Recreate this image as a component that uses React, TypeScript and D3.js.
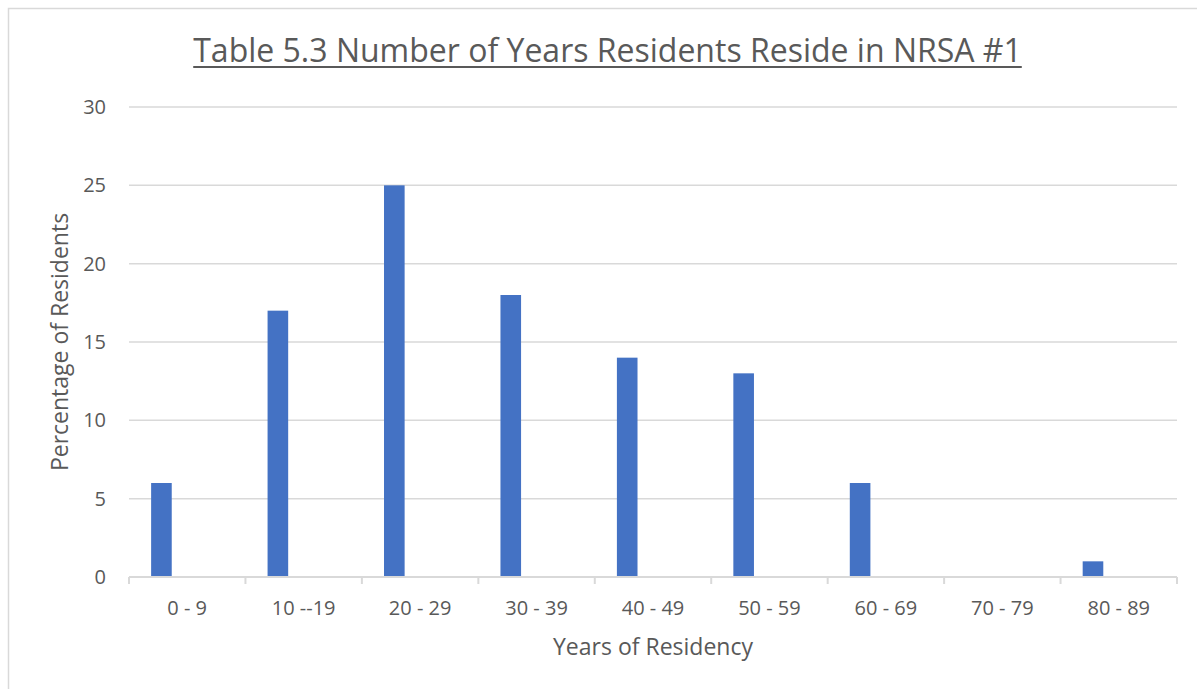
import React, { useEffect, useRef } from 'react';
import * as d3 from 'd3';

// Datos del gráfico
const categories = ['0 - 9', '10 --19', '20 - 29', '30 - 39', '40 - 49', '50 - 59', '60 - 69', '70 - 79', '80 - 89'];
const values = [6, 17, 25, 18, 14, 13, 6, 0, 1];
const yTicks = [0, 5, 10, 15, 20, 25, 30];

const chartTitle = 'Table 5.3 Number of Years Residents Reside in NRSA #1';
const xTitle = 'Years of Residency';
const yTitle = 'Percentage of Residents';

const width = 1197;
const height = 689;

const App: React.FC = () => {
  const svgRef = useRef<SVGSVGElement>(null);

  useEffect(() => {
    if (!svgRef.current) return;
    const svg = d3.select(svgRef.current);
    svg.selectAll('*').remove();

    const font = "'Open Sans', sans-serif";
    const textColor = '#595959';
    const gridColor = '#d9d9d9';
    const margin = { left: 129, right: 1177, top: 107, bottom: 577 };

    const x = d3.scaleBand<string>()
      .domain(categories)
      .range([margin.left, margin.right])
      .padding(0);

    const y = d3.scaleLinear()
      .domain([0, 30])
      .range([margin.bottom, margin.top]);

    // Marco del área del gráfico
    svg.append('rect')
      .attr('x', 8.5)
      .attr('y', 8.5)
      .attr('width', width + 20)
      .attr('height', height + 20)
      .attr('fill', '#fff')
      .attr('stroke', gridColor)
      .attr('stroke-width', 1.5);

    // Título
    const title = svg.append('text')
      .attr('x', 607.5)
      .attr('y', 62)
      .attr('text-anchor', 'middle')
      .attr('fill', textColor)
      .style('font-family', font)
      .style('font-size', '32px')
      .text(chartTitle);

    const tb = (title.node() as SVGTextElement).getBBox();
    svg.append('line')
      .attr('x1', tb.x)
      .attr('x2', tb.x + tb.width)
      .attr('y1', 67)
      .attr('y2', 67)
      .attr('stroke', textColor)
      .attr('stroke-width', 2);

    // Líneas de cuadrícula
    svg.append('g')
      .selectAll('line')
      .data(yTicks.filter(t => t > 0))
      .join('line')
      .attr('x1', margin.left)
      .attr('x2', margin.right)
      .attr('y1', d => y(d))
      .attr('y2', d => y(d))
      .attr('stroke', gridColor)
      .attr('stroke-width', 1.5);

    // Etiquetas del eje Y
    svg.append('g')
      .selectAll('text')
      .data(yTicks)
      .join('text')
      .attr('x', 106)
      .attr('y', d => y(d))
      .attr('dy', '0.35em')
      .attr('text-anchor', 'end')
      .attr('fill', textColor)
      .style('font-family', font)
      .style('font-size', '20px')
      .text(d => d);

    // Barras
    const bw = x.bandwidth();
    svg.append('g')
      .selectAll('rect')
      .data(values)
      .join('rect')
      .attr('x', (d, i) => (x(categories[i]) ?? 0) + bw * 0.19)
      .attr('width', bw * 0.177)
      .attr('y', d => y(d))
      .attr('height', d => y(0) - y(d))
      .attr('fill', '#4472c4');

    // Eje X
    svg.append('line')
      .attr('x1', margin.left)
      .attr('x2', margin.right)
      .attr('y1', y(0))
      .attr('y2', y(0))
      .attr('stroke', gridColor)
      .attr('stroke-width', 2);

    const bounds = [...categories.map(c => x(c) ?? 0), margin.right];
    svg.append('g')
      .selectAll('line')
      .data(bounds)
      .join('line')
      .attr('x1', d => d)
      .attr('x2', d => d)
      .attr('y1', y(0))
      .attr('y2', y(0) + 7)
      .attr('stroke', gridColor)
      .attr('stroke-width', 2);

    svg.append('g')
      .selectAll('text')
      .data(categories)
      .join('text')
      .attr('x', d => (x(d) ?? 0) + bw / 2)
      .attr('y', 615)
      .attr('text-anchor', 'middle')
      .attr('fill', textColor)
      .style('font-family', font)
      .style('font-size', '20px')
      .text(d => d);

    // Títulos de los ejes
    svg.append('text')
      .attr('x', (margin.left + margin.right) / 2)
      .attr('y', 655)
      .attr('text-anchor', 'middle')
      .attr('fill', textColor)
      .style('font-family', font)
      .style('font-size', '23px')
      .text(xTitle);

    svg.append('text')
      .attr('transform', `translate(68,${(margin.top + margin.bottom) / 2}) rotate(-90)`)
      .attr('text-anchor', 'middle')
      .attr('fill', textColor)
      .style('font-family', font)
      .style('font-size', '23px')
      .text(yTitle);
  }, []);

  return (
    <svg
      ref={svgRef}
      width={width}
      height={height}
      style={{ position: 'absolute', left: 0, top: 0, display: 'block' }}
    />
  );
};

export default App;
